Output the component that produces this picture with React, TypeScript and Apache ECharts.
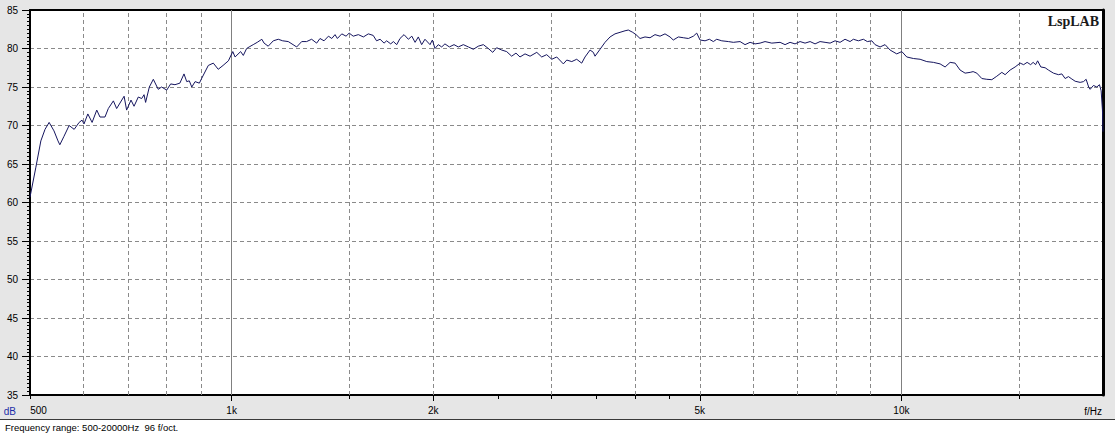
import React, { useEffect, useRef } from 'react';
import * as echarts from 'echarts';

// Measured response: [frequency Hz, level dB]
const measuredResponse: [number, number][] = [
  [500, 60.7], [510, 64.5], [519, 68.0], [526.5, 69.5], [534, 70.4], [543, 69.3], [550.5, 68.0], [554, 67.5],
  [562, 68.6], [572, 70.0], [582, 69.5], [592, 70.4], [598, 70.7], [602, 70.2], [610, 71.5], [619, 70.4],
  [629, 72.0], [636, 71.1], [647, 71.1], [654.5, 72.2], [666, 73.2], [673.5, 72.2], [691, 73.8], [697, 72.0],
  [707.6, 73.3], [715, 72.5], [725.6, 73.7], [734, 73.5], [740, 74.0], [744, 73.0], [753.6, 75.0], [764, 76.0],
  [777, 74.7], [786, 75.0], [800, 74.6], [811, 75.4], [823, 75.3], [837, 75.5], [849, 76.7], [857, 75.7],
  [864.6, 75.8], [872, 75.0], [882, 75.7], [895, 75.5], [902, 76.1], [923, 77.8], [939, 78.1], [955, 77.3],
  [971, 77.8], [989, 78.4], [1004, 79.6], [1012, 78.9], [1031.5, 79.6], [1041, 79.1], [1053, 80.0], [1062, 80.2],
  [1077, 80.5], [1092, 80.8], [1109.5, 81.2], [1118, 80.7], [1134, 80.3], [1154, 81.0], [1174, 81.2], [1192, 81.0],
  [1215, 80.9], [1250.6, 80.2], [1272.5, 80.9], [1294, 80.9], [1316.7, 81.2], [1339.6, 80.7], [1355, 81.3], [1374, 81.0],
  [1395, 81.6], [1411, 81.3], [1427, 81.8], [1438.5, 81.3], [1460.5, 81.9], [1482, 81.6], [1498, 82.0], [1519, 81.6],
  [1546, 81.8], [1573, 81.5], [1600, 81.9], [1627, 81.7], [1646, 81.0], [1666, 81.2], [1689, 80.7], [1704, 81.0],
  [1728, 80.6], [1744, 80.9], [1764, 80.5], [1784, 81.3], [1809, 81.8], [1836, 81.2], [1858, 81.6], [1879, 80.8],
  [1900, 81.5], [1922, 80.5], [1944, 81.2], [1978, 80.5], [1994, 81.1], [2012, 80.0], [2035, 80.5], [2059, 80.2],
  [2082, 80.6], [2114, 80.2], [2148, 80.5], [2180, 80.2], [2218, 80.5], [2257, 80.2], [2296, 79.9], [2335, 80.3],
  [2376, 80.5], [2417, 80.0], [2454, 79.5], [2487, 80.1], [2531, 79.8], [2574, 79.6], [2619, 79.0], [2658, 79.4],
  [2695, 78.9], [2742, 79.3], [2790, 79.0], [2855, 79.5], [2904, 78.9], [2954, 79.2], [3006, 78.6], [3058, 78.9],
  [3128, 78.0], [3165, 78.5], [3220, 78.3], [3275, 78.6], [3332, 78.1], [3370, 78.9], [3429, 79.8], [3468, 79.5],
  [3488, 79.0], [3549, 79.9], [3610, 80.8], [3673, 81.5], [3736, 81.9], [3801, 82.1], [3867, 82.3], [3911, 82.4],
  [3971, 82.1], [4016, 81.8], [4072, 81.3], [4142, 81.5], [4214, 81.4], [4287, 81.8], [4362, 81.6], [4437, 81.9],
  [4514, 81.5], [4565, 81.1], [4645, 81.5], [4725, 81.4], [4808, 81.3], [4891, 81.6], [4948, 82.0], [5005, 81.1],
  [5092, 81.0], [5168, 81.2], [5239, 80.9], [5300, 81.2], [5393, 81.0], [5517, 80.9], [5612, 80.8], [5743, 80.9],
  [5842, 80.5], [5944, 80.8], [6047, 80.6], [6152, 80.7], [6258, 80.9], [6405, 80.7], [6590, 80.8], [6704, 80.5],
  [6820, 80.8], [6938, 80.6], [7059, 80.9], [7181, 80.7], [7306, 80.9], [7432, 80.6], [7561, 80.9], [7692, 80.8],
  [7826, 80.7], [7961, 81.0], [8099, 80.8], [8239, 81.2], [8383, 80.9], [8479, 81.2], [8626, 81.0], [8775, 81.2],
  [8895, 80.9], [9033, 81.0], [9135, 80.5], [9294, 80.2], [9455, 80.5], [9619, 79.8], [9842, 79.3], [10015, 79.6],
  [10187, 78.9], [10421, 78.7], [10665, 78.6], [10912, 78.3], [11164, 78.2], [11424, 78.0], [11622, 77.6], [11824, 78.2],
  [12029, 78.1], [12237, 77.2], [12449, 76.8], [12666, 76.9], [12797, 77.0], [12960, 76.8], [13186, 76.1], [13412, 76.0],
  [13647, 75.95], [13882, 76.4], [14125, 76.9], [14285, 76.6], [14533, 77.2], [14784, 77.6], [15042, 78.1], [15223, 77.9],
  [15408, 78.2], [15595, 77.9], [15730, 78.2], [15864, 77.9], [15974, 78.4], [16152, 77.6], [16392, 77.5], [16580, 77.2],
  [16867, 76.8], [17160, 76.6], [17362, 76.7], [17559, 76.1], [17760, 76.35], [17926, 76.1], [18173, 75.75], [18489, 75.6],
  [18700, 75.7], [18873, 76.0], [19037, 75.0], [19136, 74.7], [19354, 75.2], [19580, 75.0], [19758, 75.3], [19873, 74.5],
  [19962, 72.0], [20000, 69.2],
];

const xMin = 500;
const xMax = 20000;
const yMin = 35;
const yMax = 85;
const yStep = 5;

const dashedGridHz = [600, 700, 800, 900, 1500, 2000, 3000, 4000, 5000, 6000, 7000, 8000, 9000, 15000];
const solidGridHz = [1000, 10000];
const minorTickHz = [500, 1500, 2500, 3000, 3500, 4000, 4500, 15000];
const majorTickHz = [1000, 2000, 5000, 10000];
const labelHz = [500, 1000, 2000, 5000, 10000];

const statusText = 'Frequency range: 500-20000Hz  96 f/oct.';
const brandText = 'LspLAB';

const FONT = '"Liberation Sans", Arial, sans-serif';

export default function App() {
  const ref = useRef<HTMLDivElement>(null);

  useEffect(() => {
    document.body.style.margin = '0';
    if (!ref.current) return;
    const chart = echarts.init(ref.current, undefined, { renderer: 'svg' });
    const gridColor = '#8a8a8a';
    const baseLog = {
      type: 'log' as const,
      logBase: 10,
      min: xMin,
      max: xMax,
      gridIndex: 0,
      splitLine: { show: false },
      minorTick: { show: false },
      minorSplitLine: { show: false },
    };
    chart.setOption({
      animation: false,
      backgroundColor: '#e6e6e6',
      grid: {
        left: 30,
        right: 12,
        top: 10,
        bottom: 41,
        show: true,
        backgroundColor: '#ffffff',
        borderWidth: 0,
      },
      xAxis: [
        {
          ...baseLog,
          position: 'bottom',
          axisLine: { show: true, onZero: false, lineStyle: { color: '#000', width: 2 } },
          axisTick: { show: true, customValues: minorTickHz, length: 4, lineStyle: { color: '#000' } },
          axisLabel: { show: false },
        },
        {
          ...baseLog,
          position: 'bottom',
          axisLine: { show: false, onZero: false },
          axisTick: { show: true, customValues: majorTickHz, length: 6, lineStyle: { color: '#000' } },
          axisLabel: {
            show: true,
            customValues: labelHz,
            margin: 10,
            fontSize: 10,
            fontFamily: FONT,
            color: '#000',
            formatter: (v: number) => (v >= 1000 ? `${v / 1000}k` : `{first|${v}}`),
            rich: { first: { padding: [0, 0, 0, 17], fontSize: 10, fontFamily: FONT, color: '#000' } },
          },
          name: 'f/Hz',
          nameLocation: 'end',
          nameGap: -1,
          nameTextStyle: {
            align: 'right',
            verticalAlign: 'top',
            padding: [11, 0, 0, 0],
            fontSize: 10,
            fontFamily: FONT,
            color: '#000',
          },
        },
        {
          ...baseLog,
          position: 'top',
          axisLine: { show: true, onZero: false, lineStyle: { color: '#000', width: 2 } },
          axisTick: { show: false },
          axisLabel: { show: false },
        },
      ],
      yAxis: [
        {
          type: 'value',
          min: yMin,
          max: yMax,
          interval: yStep,
          position: 'left',
          axisLine: { show: true, onZero: false, lineStyle: { color: '#000', width: 2 } },
          axisTick: { show: true, length: 8, lineStyle: { color: '#000' } },
          minorTick: { show: true, splitNumber: 10, length: 3, lineStyle: { color: '#000' } },
          splitLine: {
            show: true,
            showMinLine: false,
            showMaxLine: false,
            lineStyle: { color: gridColor, type: [4, 3], width: 1 },
          },
          axisLabel: { margin: 12, fontSize: 10, fontFamily: FONT, color: '#000' },
          name: 'dB',
          nameLocation: 'start',
          nameGap: 10,
          nameTextStyle: {
            color: '#1c2fa8',
            align: 'right',
            verticalAlign: 'top',
            padding: [1, 14, 0, 0],
            fontSize: 10,
            fontFamily: FONT,
          },
        },
        {
          type: 'value',
          min: yMin,
          max: yMax,
          position: 'right',
          axisLine: { show: true, onZero: false, lineStyle: { color: '#000', width: 3 } },
          axisTick: { show: false },
          axisLabel: { show: false },
          splitLine: { show: false },
        },
      ],
      series: [
        {
          type: 'line',
          xAxisIndex: 0,
          yAxisIndex: 0,
          data: measuredResponse,
          showSymbol: false,
          symbol: 'none',
          z: 3,
          lineStyle: { color: '#15155e', width: 1 },
          markLine: {
            silent: true,
            z: 1,
            symbol: 'none',
            label: { show: false },
            emphasis: { disabled: true },
            data: [
              ...dashedGridHz.map((v) => ({ xAxis: v, lineStyle: { color: gridColor, type: [4, 3], width: 1 } })),
              ...solidGridHz.map((v) => ({ xAxis: v, lineStyle: { color: '#808080', type: 'solid', width: 1 } })),
            ],
          },
        },
      ],
      graphic: [
        { type: 'rect', shape: { x: 0, y: 420, width: 1115, height: 16 }, style: { fill: '#ffffff' }, silent: true },
        { type: 'line', shape: { x1: 0, y1: 419.5, x2: 1115, y2: 419.5 }, style: { stroke: '#3a3a3a', lineWidth: 1 }, silent: true },
        {
          type: 'text',
          x: 5,
          y: 427,
          style: { text: statusText, font: `9.5px ${FONT}`, fill: '#000', align: 'left', verticalAlign: 'middle' },
          silent: true,
        },
        {
          type: 'text',
          x: 1099,
          y: 21,
          z: 10,
          style: { text: brandText, font: 'bold 14px "Liberation Serif", "Times New Roman", serif', fill: '#1a1a1a', align: 'right', verticalAlign: 'middle' },
          silent: true,
        },
      ],
    });
    return () => chart.dispose();
  }, []);

  return <div ref={ref} style={{ width: 1115, height: 436 }} />;
}
